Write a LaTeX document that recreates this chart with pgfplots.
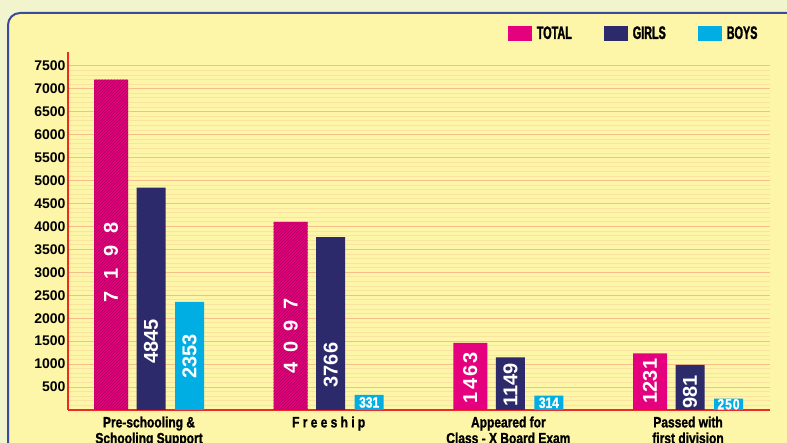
\documentclass[border=0pt]{standalone}
\usepackage{pgfplots}
\pgfplotsset{compat=1.18}
\usetikzlibrary{patterns}
\usepackage{fontspec}
\setmainfont{Liberation Sans}
\newfontfamily\condfont[FakeStretch=0.8, FakeBold=1.2]{Liberation Sans}
\newfontfamily\legfont[FakeStretch=0.6, FakeBold=1.5]{Liberation Sans}

\definecolor{outerbg}{HTML}{F2F4CE}
\definecolor{panelbg}{HTML}{FDF5A8}
\definecolor{panelborder}{HTML}{3B4A9A}
\definecolor{total}{HTML}{E5007D}
\definecolor{totaldark}{HTML}{A8005E}
\definecolor{girls}{HTML}{2D2A6B}
\definecolor{girlsleg}{HTML}{2E3591}
\definecolor{boys}{HTML}{00AEE3}
\definecolor{axisred}{HTML}{EE2A24}
\definecolor{gridmajor}{HTML}{F8BE8A}
\definecolor{gridminor}{HTML}{FAE39E}

\tikzset{
  vlab/.style={text=white, font=\bfseries\fontsize{20}{20}\selectfont, inner sep=0pt},
  blab/.style={text=white, font=\condfont\bfseries\fontsize{15}{15}\selectfont, inner sep=0pt},
}

\begin{document}
\begin{tikzpicture}[x=1pt,y=1pt]
\useasboundingbox (0,0) rectangle (787,443);
\fill[outerbg] (0,0) rectangle (787,443);
\begin{scope}
  \clip (0,0) rectangle (787,443);
  \filldraw[fill=panelbg, draw=panelborder, line width=2pt, rounded corners=12pt]
    (8,-30) rectangle (820,430);
\end{scope}

\begin{axis}[
  at={(68pt,33pt)}, anchor=south west,
  scale only axis, width=702pt, height=358pt,
  xmin=-0.462, xmax=3.445, ymin=0, ymax=7800,
  axis x line*=bottom, axis y line*=left,
  x axis line style={draw=axisred, line width=2.5pt, -},
  y axis line style={draw=axisred, line width=2pt, -},
  ytick={500,1000,...,7500},
  minor ytick={100,200,...,7400},
  ymajorgrids, yminorgrids,
  major grid style={draw=gridmajor, line width=1pt},
  minor grid style={draw=gridminor, line width=0.8pt},
  major tick length=0pt, minor tick length=0pt,
  /pgf/number format/assume math mode=true,
  /pgf/number format/1000 sep={},
  yticklabel style={font=\bfseries\fontsize{14}{14}\selectfont, xshift=1pt},
  xtick={0,1,2,3},
  xticklabels={{Pre-schooling \&\\Schooling Support},
               {\addfontfeature{LetterSpace=22}Freeship},
               {Appeared for\\Class - X Board Exam},
               {Passed with\\first division}},
  xticklabel style={font=\condfont\bfseries\fontsize{15}{16}\selectfont,
                    align=center, xshift=-2pt, yshift=-3pt},
  clip=false,
  legend columns=3,
  legend image code/.code={\fill[#1] (0pt,-7.5pt) rectangle (24pt,7.5pt);},
  legend style={draw=none, fill=none, at={(0.9895,1.052)}, anchor=east,
                font=\legfont\bfseries\fontsize{18}{18}\selectfont,
                /tikz/every odd column/.append style={column sep=3pt},
                /tikz/every even column/.append style={column sep=30pt}},
]
\addplot[ybar, bar width=34pt, bar shift=-40pt, fill=total, draw=none]
  coordinates {(0,7198) (1,4097) (2,1463) (3,1231)};
\addplot[ybar, bar width=29pt, bar shift=0pt, fill=girls, draw=none]
  coordinates {(0,4845) (1,3766) (2,1149) (3,981)};
\addplot[ybar, bar width=29pt, bar shift=38.5pt, fill=boys, draw=none]
  coordinates {(0,2353) (1,331) (2,314) (3,250)};
\addplot[ybar, bar width=34pt, bar shift=-40pt, draw=none,
  pattern=north east lines, pattern color=totaldark, forget plot]
  coordinates {(0,7198) (1,4097)};
\legend{TOTAL, GIRLS, BOYS}

\node[vlab, rotate=90] at (axis cs:-0.2226,3217) {7\hspace{12pt}1\hspace{12pt}9\hspace{12pt}8};
\node[vlab, rotate=90] at (axis cs:0,1500) {4845};
\node[vlab, rotate=90] at (axis cs:0.2142,1170) {2353};
\node[vlab, rotate=90] at (axis cs:0.7774,1610) {4\hspace{10pt}0\hspace{10pt}9\hspace{10pt}7};
\node[vlab, rotate=90] at (axis cs:1,980) {3766};
\node[blab] at (axis cs:1.2142,165) {331};
\node[vlab, rotate=90] at (axis cs:1.7774,700) {1\hspace{2pt}4\hspace{2pt}6\hspace{2pt}3};
\node[vlab, rotate=90] at (axis cs:2,540) {1149};
\node[blab] at (axis cs:2.2142,157) {314};
\node[vlab, rotate=90] at (axis cs:2.7774,630) {1231};
\node[vlab, rotate=90] at (axis cs:3,390) {981};
\node[blab] at (axis cs:3.2142,125) {2\hspace{1pt}5\hspace{1pt}0};
\end{axis}
\end{tikzpicture}
\end{document}
